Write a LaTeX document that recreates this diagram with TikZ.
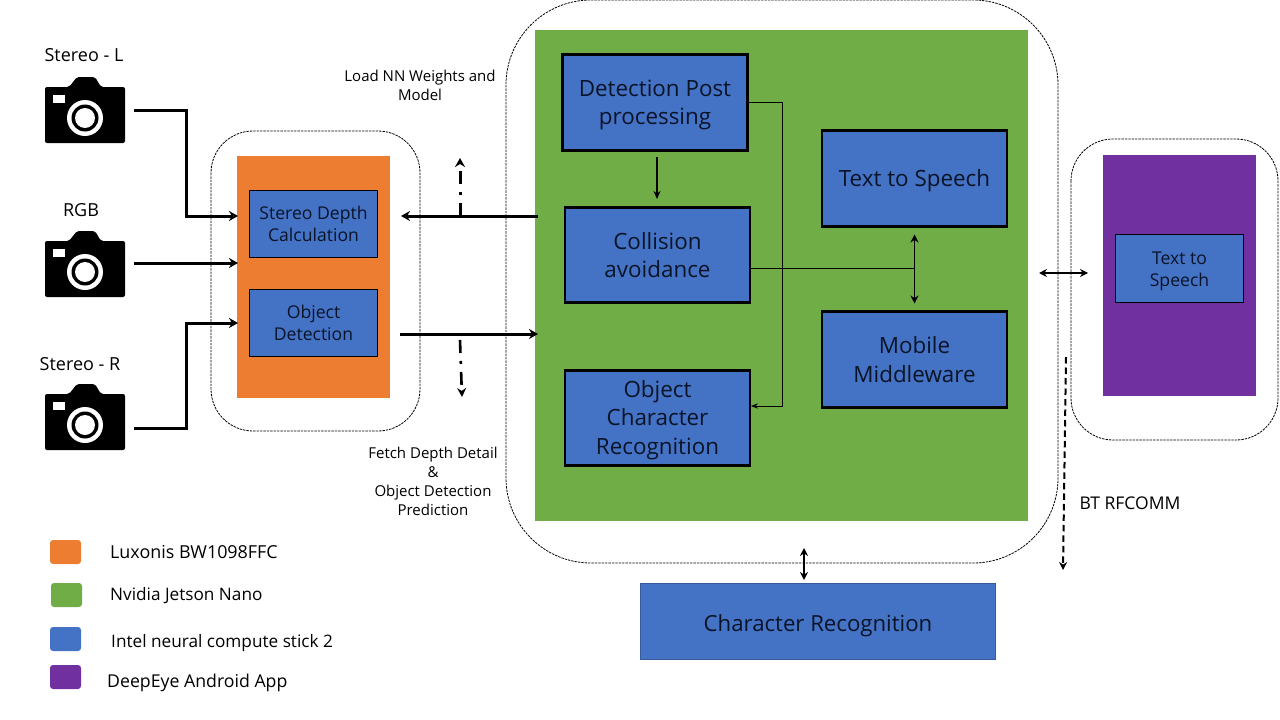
\documentclass[tikz,border=0pt]{standalone}
\usepackage{fontspec}
\setmainfont{Open Sans}
\usepackage{tikz}
\usetikzlibrary{arrows.meta, calc}
\definecolor{BoardOrange}{HTML}{ED7D31}
\definecolor{BoardGreen}{HTML}{70AD47}
\definecolor{StickBlue}{HTML}{4472C4}
\definecolor{AppPurple}{HTML}{7030A0}
\definecolor{BoxText}{HTML}{0A1428}
\newcommand{\lowertext}[2]{\raisebox{-#1}[\height][\depth]{\begin{tabular}{@{}c@{}}#2\end{tabular}}}
\newcommand{\camerashape}[1]{
    \begin{scope}[shift={(#1)}]
        \fill[black, rounded corners=2] (-40,-31) -- (-16,-31) -- (-8,-41) -- (10,-41) -- (16,-31) -- (40,-31) -- (40,25) -- (-40,25) -- cycle;
        \fill[white] (-32,-23) rectangle (-20,-15);
        \fill[white] (0,0) circle (18);
        \fill[black] (0,0) circle (13.5);
        \fill[white] (0,0) circle (10);
    \end{scope}
}
\tikzset{
    every picture/.style={/utils/exec={\fontsize{15}{19}\selectfont}},
    boxtext/.style={text=BoxText, align=center, inner sep=0, outer sep=0},
    thinbox/.style={boxtext, draw=black, line width=1.2pt, fill=StickBlue, font=\fontsize{17.6}{22}\selectfont},
    thickbox/.style={boxtext, draw=black, line width=2.8pt, fill=StickBlue, font=\fontsize{22.4}{28.5}\selectfont},
    container/.style={draw=black, dash pattern=on 2.4pt off 1pt, line width=0.8pt},
    boardfill/.style={inner sep=0, outer sep=0},
    legendkey/.style={inner sep=0, outer sep=0, rounded corners=3, minimum width=31, minimum height=24},
    label/.style={text=black, align=center, inner sep=0},
    camlabel/.style={label, font=\fontsize{18}{20}\selectfont},
    legendtext/.style={text=black, anchor=west, inner sep=0, font=\fontsize{17.2}{20}\selectfont},
    bigarrow/.style={line width=3pt, -{Stealth[length=9pt, width=10pt]}},
    smallarrow/.style={line width=1.1pt, {Stealth[length=8pt, width=8pt]}-{Stealth[length=8pt, width=8pt]}},
    thinline/.style={line width=0.9pt},
}
\begin{document}
\begin{tikzpicture}[x=1pt, y=-1pt, >=Stealth]
    \useasboundingbox (0,0) rectangle (1280,720);

    % Containers
    \draw[container, rounded corners=85] (506,0) rectangle (1058,563);
    \draw[container, rounded corners=42] (211,131) rectangle (420,431);
    \draw[container, rounded corners=42] (1071,139) rectangle (1278,440);

    % Boards
    \node[boardfill, fill=BoardGreen, minimum width=493, minimum height=491] (jetson) at (781.5,275.5) {};
    \node[boardfill, fill=BoardOrange, minimum width=153, minimum height=242] (luxonis) at (313.5,277) {};
    \node[boardfill, fill=AppPurple, minimum width=153, minimum height=241] (android) at (1179.5,275.5) {};

    % Cameras
    \camerashape{85,118}
    \camerashape{85,272}
    \camerashape{85,425}
    \node[camlabel] (stereoL) at (84,55) {Stereo - L};
    \node[camlabel] (rgb) at (81,210) {RGB};
    \node[camlabel] (stereoR) at (80,364) {Stereo - R};

    % Blue boxes
    \node[thinbox, minimum width=128, minimum height=67] (depth) at (313.5,224) {Stereo Depth\\Calculation};
    \node[thinbox, minimum width=128, minimum height=67] (objdet) at (313.5,323) {Object\\Detection};
    \node[thickbox, minimum width=185, minimum height=96] (post) at (655,102.5) {\lowertext{2.5pt}{Detection Post\\processing}};
    \node[thickbox, minimum width=185, minimum height=95] (collision) at (657.5,255) {Collision\\avoidance};
    \node[thickbox, minimum width=185, minimum height=95] (ocr) at (657.5,418) {\lowertext{2pt}{Object\\Character\\Recognition}};
    \node[thickbox, minimum width=185, minimum height=96, execute at begin node={\rule{0pt}{22pt}}] (tts) at (914.5,178.5) {Text to Speech};
    \node[thickbox, minimum width=185, minimum height=96] (middleware) at (914.5,359.5) {Mobile\\Middleware};
    \node[thinbox, minimum width=128, minimum height=68] (ttsapp) at (1179.5,268.5) {\lowertext{3pt}{Text to\\Speech}};
    \node[boxtext, draw=StickBlue!80!black, line width=1pt, fill=StickBlue, font=\fontsize{22.2}{28}\selectfont, minimum width=355, minimum height=76, execute at begin node={\rule{0pt}{25pt}}] (charrec) at (818,621.5) {Character Recognition};

    % Free ends
    \coordinate (camLout) at (134,110);
    \coordinate (camCout) at (134,263);
    \coordinate (camRout) at (134,428);
    \coordinate (luxL) at (238,216);
    \coordinate (luxC) at (238,263);
    \coordinate (luxR) at (238,323);
    \coordinate (greenin) at (538,216);
    \coordinate (greenout) at (538,334);
    \coordinate (luxin) at (401,216);
    \coordinate (luxout) at (400,334);
    \coordinate (loadup) at (460,158);
    \coordinate (fetchtop) at (460,340);
    \coordinate (fetchdown) at (462,397);
    \coordinate (btleft) at (1039,273);
    \coordinate (btright) at (1088,273);
    \coordinate (bttop) at (1066,357);
    \coordinate (btdown) at (1063,570);
    \coordinate (crtop) at (804,548);
    \coordinate (crbottom) at (804,580);
    \coordinate (ocrin) at (751,406);

    % Camera links
    \draw[bigarrow] (camLout) -- (186,110) |- (luxL);
    \draw[bigarrow] (camCout) -- (luxC);
    \draw[bigarrow] (camRout) -- (186,428) |- (luxR);

    % Links between boards
    \draw[bigarrow] (greenin) -- (luxin);
    \draw[bigarrow] (luxout) -- (greenout);
    \draw[line width=3pt, dash pattern=on 13pt off 8pt on 3pt off 8pt, -{Stealth[length=9pt, width=10pt]}] (460,216) -- (loadup);
    \draw[line width=2.6pt, dash pattern=on 13pt off 8pt on 3pt off 8pt, -{Stealth[length=9pt, width=9pt]}] (fetchtop) -- (fetchdown);
    \draw[smallarrow] (btleft) -- (btright);
    \draw[line width=2pt, dash pattern=on 6.5pt off 4pt, -{Stealth[length=8pt, width=8pt]}] (bttop) -- (btdown);
    \draw[smallarrow] (crtop) -- (crbottom);

    % Links inside the Jetson
    \draw[thinline, ->] (post.east) -- (782,102.5) |- (ocrin);
    \draw[line width=1.5pt, -{Stealth[length=8pt, width=7pt]}] (657,157) -- (657,199);
    \draw[thinline] (collision.east |- 0,268) -- (914.5,268);
    \draw[smallarrow, shorten >=8pt, shorten <=8pt] (tts.south) -- (middleware.north);

    % Labels
    \node[label] (loadlabel) at (420,85) {Load NN Weights and\\Model};
    \node[label, align=center] (fetchlabel) at (433,481) {Fetch Depth Detail\\\&\\Object Detection\\Prediction};
    \node[label, font=\fontsize{17.5}{20}\selectfont] (btlabel) at (1130,503) {BT RFCOMM};

    % Legend
    \node[legendkey, fill=BoardOrange] (keyorange) at (65.5,552) {};
    \node[legendkey, fill=BoardGreen] (keygreen) at (66.5,595) {};
    \node[legendkey, fill=StickBlue] (keyblue) at (65.5,639) {};
    \node[legendkey, fill=AppPurple] (keypurple) at (65.5,677) {};
    \node[legendtext, font=\fontsize{17.9}{20}\selectfont] (textorange) at (110,552) {Luxonis BW1098FFC};
    \node[legendtext] (textgreen) at (110,596) {Nvidia Jetson Nano};
    \node[legendtext] (textblue) at (111,643) {Intel neural compute stick 2};
    \node[legendtext, font=\fontsize{17.7}{20}\selectfont] (textpurple) at (107,683) {DeepEye Android App};
\end{tikzpicture}
\end{document}
